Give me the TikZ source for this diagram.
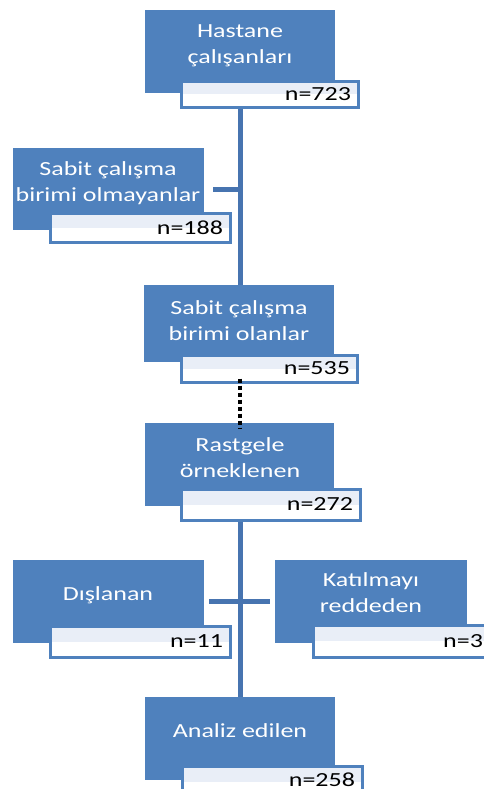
\documentclass[tikz,border=0pt]{standalone}
\usepackage{fontspec}
\setmainfont{Carlito}[FakeStretch=1.3]
\definecolor{boxblue}{HTML}{4F81BD}
\definecolor{lineblue}{HTML}{4774B0}
\definecolor{lightfill}{HTML}{E9EEF7}
\begin{document}
\begin{tikzpicture}[x=1bp,y=-1bp,
  bluebox/.style={fill=boxblue, anchor=north west, inner sep=0pt},
  boxtext/.style={text=white, align=center, inner sep=0pt, font=\fontsize{20bp}{26bp}\selectfont},
  countbox/.style={draw=boxblue, line width=3bp, fill=white, anchor=north west,
    inner xsep=7bp, inner ysep=0pt, align=right, text=black,
    font=\fontsize{20bp}{24bp}\selectfont,
    path picture={\fill[lightfill] (path picture bounding box.north west) rectangle (path picture bounding box.east);}},
  conn/.style={draw=lineblue, line width=5bp},
  dotconn/.style={draw=black, line width=4bp, dash pattern=on 4bp off 3bp}]
\useasboundingbox (0,0) rectangle (484,789);
\clip (0,0) rectangle (484,789);

% blue boxes
\node[bluebox, minimum width=190bp, minimum height=83bp] (b1) at (145,10) {};
\node[bluebox, minimum width=191bp, minimum height=82bp] (b2) at (13,148) {};
\node[bluebox, minimum width=190bp, minimum height=77bp] (b3) at (144,285) {};
\node[bluebox, minimum width=189bp, minimum height=83bp] (b4) at (145,423) {};
\node[bluebox, minimum width=191bp, minimum height=83bp] (b5) at (13,560) {};
\node[bluebox, minimum width=192bp, minimum height=83bp] (b6) at (275,560) {};
\node[bluebox, minimum width=190bp, minimum height=83bp] (b7) at (145,697) {};

% box texts
\node[boxtext] (t1) at (240,45.5) {Hastane\\çalışanları};
\node[boxtext] (t2) at (108,183) {Sabit çalışma\\birimi olmayanlar};
\node[boxtext] (t3) at (239,321) {Sabit çalışma\\birimi olanlar};
\node[boxtext] (t4) at (240,458) {Rastgele\\örneklenen};
\node[boxtext] (t5) at (108,595) {Dışlanan};
\node[boxtext] (t6) at (371,593) {Katılmayı\\reddeden};
\node[boxtext] (t7) at (240,731) {Analiz edilen};

% count boxes
\node[countbox, minimum width=177bp, minimum height=26bp, text width=163bp] (n1) at (179.5,79.5) {n=723};
\node[countbox, minimum width=180bp, minimum height=29bp, text width=166bp] (n2) at (48.5,211.5) {n=188};
\node[countbox, minimum width=176bp, minimum height=27bp, text width=162bp] (n3) at (179.5,353.5) {n=535};
\node[countbox, minimum width=179bp, minimum height=31bp, text width=165bp] (n4) at (179.5,487.5) {n=272};
\node[countbox, minimum width=180bp, minimum height=31bp, text width=166bp] (n5) at (48.5,624.5) {n=11};
\node[countbox, minimum width=177bp, minimum height=32bp, text width=163bp] (n6) at (311.5,623.5) {n=3};
\node[countbox, minimum width=180bp, minimum height=31bp, text width=166bp] (n7) at (180.5,764.5) {\raisebox{4bp}{n=258}};

% connectors
\draw[conn] (n1.south -| b1.south) -- (b3.north -| b1.south);
\draw[conn] ([xshift=9bp]b2.east) -- (b2.east -| b1.south);
\draw[dotconn] ([yshift=5bp]n3.south -| b1.south) -- ([yshift=-5bp]b4.north -| b1.south);
\draw[conn] (n4.south -| b1.south) -- (b7.north);
\draw[conn] ([xshift=5bp]b5.east) -- ([xshift=-5bp]b6.west);
\end{tikzpicture}
\end{document}
